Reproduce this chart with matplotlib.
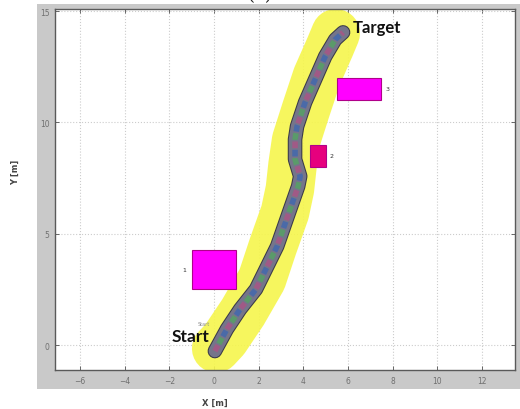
import matplotlib
matplotlib.use('Agg')
import matplotlib.pyplot as plt
import matplotlib.patheffects as pe
from matplotlib.patches import Rectangle

# robot path (centre line of the marker trail)
path_x = [0.04, 0.58, 1.17, 1.88, 2.83, 3.36, 3.77, 3.86, 3.63, 3.63, 3.72, 4.08, 4.53, 4.98, 5.43, 5.78]
path_y = [-0.27, 0.72, 1.61, 2.51, 4.44, 5.96, 7.13, 7.58, 8.34, 9.24, 9.82, 10.9, 11.93, 12.96, 13.72, 14.04]

# yellow safety corridor (centre line)
band_x = [0.1, 0.49, 1.30, 2.15, 2.64, 3.18, 3.40, 3.52, 3.68, 4.12, 4.61, 5.2, 5.45]
band_y = [-0.15, 0.27, 1.48, 2.96, 4.44, 5.96, 7.0, 8.1, 9.2, 10.58, 12.06, 13.4, 14.0]

# obstacles: x0, y0, width, height
obs_names = ['1', '2', '3']
obs_x = [-1.0, 4.3, 5.5]
obs_y = [2.5, 8.0, 11.0]
obs_w = [2.0, 0.7, 2.0]
obs_h = [1.75, 1.0, 1.0]
obs_colors = ['#ff00ff', '#e6007e', '#ff00ff']

xticks = [-6, -4, -2, 0, 2, 4, 6, 8, 10, 12]
yticks = [0, 5, 10, 15]

fig = plt.figure(figsize=(5.2, 4.1), dpi=100)
fig.patch.set_facecolor('white')
# grey matlab-style panel
fig.patches.append(Rectangle((37 / 520, 1 - 390 / 410), 1 - 37 / 520, 385 / 410,
                             transform=fig.transFigure, facecolor='#c9c9c9',
                             edgecolor='none', zorder=-10))

ax = fig.add_axes([55 / 520, 1 - 371 / 410, 460 / 520, 361 / 410])
ax.set_zorder(1)
ax.set_facecolor('white')
ax.set_xlim(-7.12, 13.48)
ax.set_ylim(-1.12, 15.09)

ax.plot(band_x, band_y, color='#f6f64c', lw=35, alpha=0.9,
        solid_capstyle='round', solid_joinstyle='round', zorder=2)

ax.plot(path_x, path_y, color='#75758a', lw=9, solid_capstyle='round',
        solid_joinstyle='round', zorder=3,
        path_effects=[pe.Stroke(linewidth=10.5, foreground='#3a3a48'), pe.Normal()])
for c, off in [('#a05a86', 0), ('#4a6aa8', 1.5), ('#5a9a6a', 3)]:
    ax.plot(path_x, path_y, color=c, lw=4, linestyle=(off, (1.2, 3.3)),
            solid_capstyle='round', zorder=4)

for name, x0, y0, w, h, c in zip(obs_names, obs_x, obs_y, obs_w, obs_h, obs_colors):
    ax.add_patch(Rectangle((x0, y0), w, h, facecolor=c, edgecolor='#b0008a',
                           lw=0.8, zorder=5))
    ax.text(x0 + w + 0.25 if name != '1' else x0 - 0.35, y0 + h / 2, name,
            fontsize=4.5, color='#333333', ha='center', va='center', zorder=6)

ax.text(6.2, 14.3, 'Target', fontsize=12, fontweight='bold', family='Lato',
        color='#111111', ha='left', va='center', zorder=7)
ax.text(-1.9, 0.4, 'Start', fontsize=12.5, fontweight='bold', family='Lato',
        color='#111111', ha='left', va='center', zorder=7)
ax.text(-0.75, 0.95, 'Start', fontsize=3.5, color='#888888', ha='left',
        va='center', zorder=6)

ax.set_xticks(xticks)
ax.set_yticks(yticks)
ax.grid(True, color='#cccccc', linestyle=':', linewidth=0.8)
ax.set_axisbelow(True)
ax.tick_params(direction='in', length=3, width=0.6, top=True, right=True,
               labelsize=5.5, labelcolor='#707070', color='#505050', pad=4)
for s in ax.spines.values():
    s.set_color('#5a5a5a')
    s.set_linewidth(1.0)

fig.text(215 / 520, 1 - 403 / 410, 'X [m]', fontsize=6, fontweight='bold',
         color='#444444', ha='center', va='center')
fig.text(15 / 520, 1 - 172 / 410, 'Y [m]', fontsize=6, fontweight='bold',
         color='#444444', ha='center', va='center', rotation=90)
fig.text(0.5, 1 - 0.5 / 410, '(a)', fontsize=13, family='DejaVu Serif',
         color='#222222', ha='center', va='baseline')

fig.savefig('out.png', dpi=100, facecolor='white')
